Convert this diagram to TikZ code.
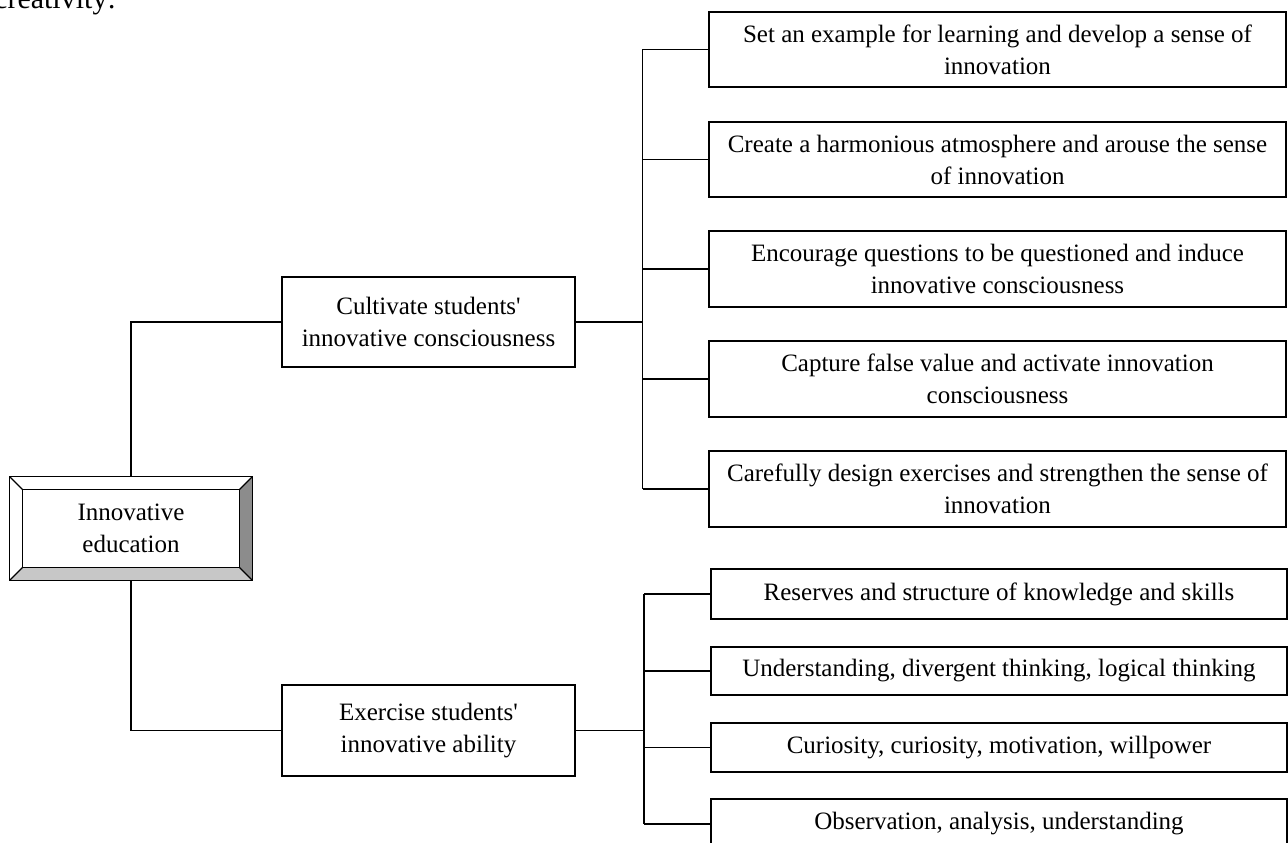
\documentclass[tikz,border=0pt]{standalone}
\usepackage{fontspec}
\setmainfont{Liberation Serif}
\newfontfamily\plainrm{Liberation Serif}
\usetikzlibrary{calc}
\begin{document}
\begin{tikzpicture}[x=1pt,y=-1pt,
  txt/.style={font=\plainrm\fontsize{25}{32}\selectfont},
  box/.style={txt, draw=black, line width=1.3pt, fill=white, align=center, inner sep=0pt},
  topbox/.style={box, minimum width=577pt, minimum height=75pt},
  botbox/.style={box, minimum width=576pt, minimum height=49pt},
  midbox/.style={box, minimum width=293pt, minimum height=90pt},
  conn/.style={draw=black, line width=1.3pt},
  bevel/.style={draw=black, line width=1.1pt},
]
\useasboundingbox (0,0) rectangle (1288,843);

% fragment of page text
\node[font=\plainrm\fontsize{30}{36}\selectfont, anchor=base west, inner sep=0pt] (frag) at (-6,9) {creativity:};

% root bevelled box
\node[txt, minimum width=242pt, minimum height=103pt, inner sep=0pt, align=center] (root) at (131,528.5) {Innovative\\education};
\coordinate (inw) at ($(root.north west)+(13,13)$);
\coordinate (ine) at ($(root.north east)+(-13,13)$);
\coordinate (isw) at ($(root.south west)+(13,-13)$);
\coordinate (ise) at ($(root.south east)+(-13,-13)$);
\fill[white] (root.north west) -- (root.north east) -- (ine) -- (inw) -- cycle;
\fill[white] (root.north west) -- (inw) -- (isw) -- (root.south west) -- cycle;
\fill[black!45] (root.north east) -- (root.south east) -- (ise) -- (ine) -- cycle;
\fill[black!22] (root.south west) -- (root.south east) -- (ise) -- (isw) -- cycle;
\draw[bevel] (root.north west) rectangle (root.south east);
\draw[bevel] (inw) rectangle (ise);
\draw[bevel] (root.north west) -- (inw) (root.north east) -- (ine)
             (root.south west) -- (isw) (root.south east) -- (ise);

% second level
\node[midbox] (cult) at (428.5,322) {Cultivate students'\\innovative consciousness};
\node[midbox, minimum height=91pt] (exer) at (428.5,730.5) {Exercise students'\\innovative ability};

\draw[conn] (root.north) |- (cult.west);
\draw[conn] (root.south) |- (exer.west);

% top group
\node[topbox] (t1) at (997.5,49.5) {Set an example for learning and develop a sense of\\innovation};
\node[topbox] (t2) at (997.5,159.5) {Create a harmonious atmosphere and arouse the sense\\of innovation};
\node[topbox, minimum height=76pt] (t3) at (997.5,269) {Encourage questions to be questioned and induce\\innovative consciousness};
\node[topbox, minimum height=76pt] (t4) at (997.5,379) {Capture false value and activate innovation\\consciousness};
\node[topbox, minimum height=76pt] (t5) at (997.5,489) {Carefully design exercises and strengthen the sense of\\innovation};

\coordinate (ja) at (642.5,322);
\draw[conn] (cult.east) -- (ja);
\draw[conn] (ja |- t1.west) -- (ja |- t5.west);
\foreach \n in {t1,t2,t3,t4,t5} \draw[conn] (ja |- \n.west) -- (\n.west);

% bottom group
\node[botbox, minimum height=50pt] (b1) at (999,594) {Reserves and structure of knowledge and skills};
\node[botbox, minimum height=48pt] (b2) at (999,671) {Understanding, divergent thinking, logical thinking};
\node[botbox] (b3) at (999,747.5) {Curiosity, curiosity, motivation, willpower};
\node[botbox, minimum height=50pt] (b4) at (999,824) {Observation, analysis, understanding};

\coordinate (jb) at (644,730.5);
\draw[conn] (exer.east) -- (jb);
\draw[conn] (jb |- b1.west) -- (jb |- b4.west);
\foreach \n in {b1,b2,b3,b4} \draw[conn] (jb |- \n.west) -- (\n.west);
\end{tikzpicture}
\end{document}
